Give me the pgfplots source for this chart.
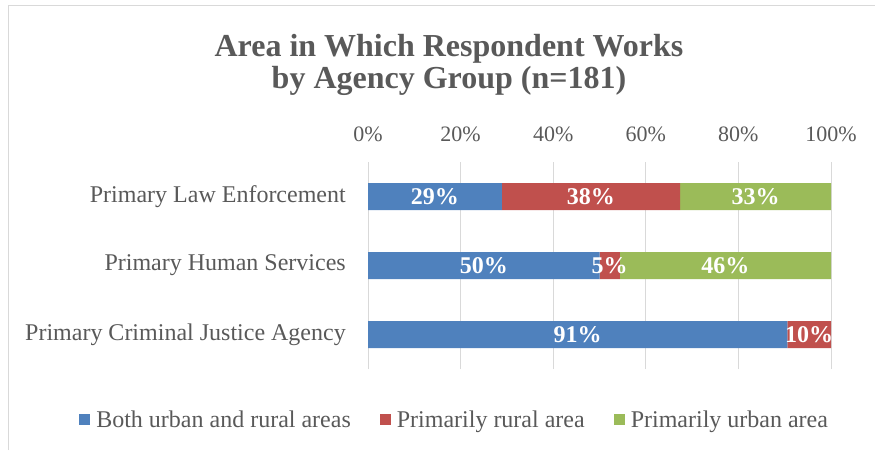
\documentclass[border=0pt]{standalone}
\usepackage{fontspec}
\setmainfont{Liberation Serif}
\usepackage{pgfplots}
\pgfplotsset{compat=1.18}
\definecolor{cblue}{RGB}{79,129,189}
\definecolor{cred}{RGB}{192,80,77}
\definecolor{cgreen}{RGB}{155,187,89}
\definecolor{tgray}{RGB}{89,89,89}
\definecolor{ggray}{RGB}{217,217,217}
\begin{document}
\begin{tikzpicture}
\useasboundingbox (0pt,0pt) rectangle (875pt,450pt);
\draw[ggray, line width=1pt] (8pt,0pt) -- (8pt,444pt) -- (875pt,444pt);
\node[anchor=base, text=tgray, font=\fontsize{32}{34}\selectfont\bfseries, inner sep=0pt] at (449pt,393pt) {Area in Which Respondent Works};
\node[anchor=base, text=tgray, font=\fontsize{32}{34}\selectfont\bfseries, inner sep=0pt] at (449pt,361pt) {by Agency Group (n=181)};
\begin{axis}[
  at={(368pt,81pt)}, anchor=south west,
  scale only axis, width=463pt, height=207pt,
  xbar stacked, bar width=27pt,
  xmin=0, xmax=100, ymin=-0.5, ymax=2.5,
  xtick={0,20,40,60,80,100},
  xticklabels={0\%,20\%,40\%,60\%,80\%,100\%},
  xticklabel pos=upper,
  xticklabel style={anchor=south, inner sep=0pt, yshift=20pt, text=tgray, font=\fontsize{22}{26}\selectfont},
  ytick={0,1,2},
  yticklabels={Primary Criminal Justice Agency, Primary Human Services, Primary Law Enforcement},
  yticklabel style={anchor=east, inner sep=0pt, xshift=-22pt, text=tgray, font=\fontsize{24}{28}\selectfont},
  major tick length=0pt,
  axis line style={draw=none},
  xmajorgrids, grid style={ggray, line width=1pt},
  legend columns=3,
  legend style={at={(0.185,-0.246)}, anchor=center, draw=none, fill=none,
    font=\fontsize{24}{28}\selectfont, text=tgray,
    nodes={inner sep=0pt},
    column sep=6pt,
    /tikz/every even column/.append style={column sep=29pt}},
  legend image code/.code={\fill[#1] (0pt,-5.5pt) rectangle (11pt,5.5pt);},
]
\addplot[fill=cblue, draw=none] coordinates {(90.6,0) (50.0,1) (28.9,2)};
\addplot[fill=cred, draw=none] coordinates {(9.4,0) (4.4,1) (38.5,2)};
\addplot[fill=cgreen, draw=none] coordinates {(0,0) (45.6,1) (32.6,2)};
\legend{Both urban and rural areas, Primarily rural area, Primarily urban area}
\end{axis}
\begin{axis}[
  at={(368pt,81pt)}, anchor=south west,
  scale only axis, width=463pt, height=207pt,
  xmin=0, xmax=100, ymin=-0.5, ymax=2.5,
  hide axis,
]
\addplot[only marks, mark=none, point meta=explicit symbolic,
  nodes near coords,
  every node near coord/.append style={anchor=center, text=white, inner sep=0pt, font=\fontsize{24}{28}\selectfont\bfseries}]
  coordinates {
  (45.3,0) [91\%] (95.3,0) [10\%]
  (25.0,1) [50\%] (52.2,1) [5\%] (77.2,1) [46\%]
  (14.45,2) [29\%] (48.15,2) [38\%] (83.7,2) [33\%]
  };
\end{axis}
\end{tikzpicture}
\end{document}
